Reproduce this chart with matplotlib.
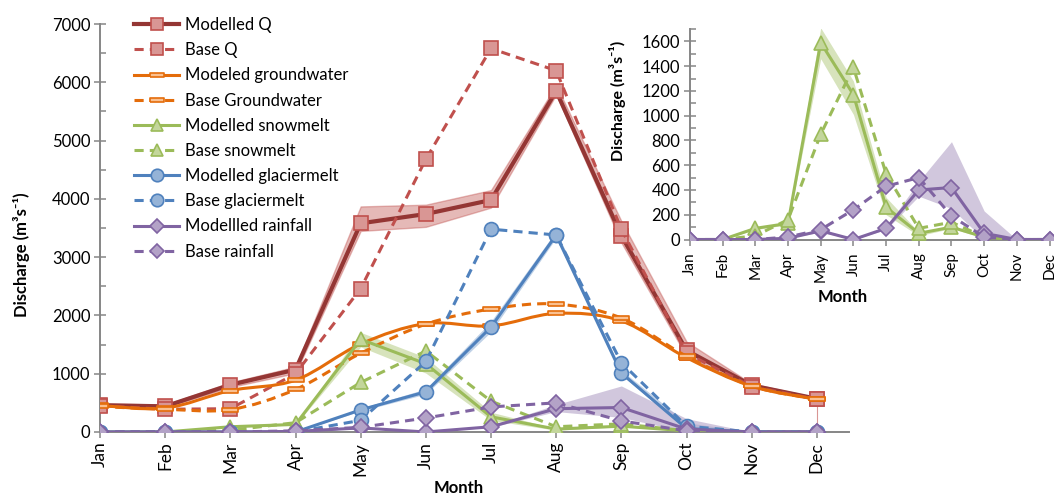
import numpy as np
from matplotlib import pyplot as plt
from matplotlib.path import Path
from matplotlib.patches import PathPatch
from matplotlib.lines import Line2D

plt.rcParams['font.family'] = ['Lato', 'DejaVu Sans']

months = ['Jan', 'Feb', 'Mar', 'Apr', 'May', 'Jun', 'Jul', 'Aug', 'Sep', 'Oct', 'Nov', 'Dec']

# discharge series, m3/s
mod_q      = [460, 440, 810, 1070, 3580, 3740, 3980, 5850, 3370, 1400, 800, 570]
base_q     = [450, 390, 400, 1000, 2460, 4680, 6580, 6200, 3480, 1350, 780, 560]
mod_gw     = [455, 410, 710, 890, 1510, 1860, 1820, 2035, 1905, 1275, 785, 560]
base_gw    = [440, 390, 385, 730, 1350, 1850, 2110, 2195, 1955, 1300, 790, 560]
mod_snow   = [0, 0, 90, 130, 1590, 1170, 260, 50, 100, 20, 0, 0]
base_snow  = [0, 0, 30, 160, 850, 1390, 530, 90, 140, 20, 0, 0]
mod_glac   = [0, 0, 0, 0, 380, 690, 1800, 3380, 1010, 60, 0, 0]
base_glac  = [0, 0, 0, 0, 200, 1210, 3480, 3380, 1190, 100, 0, 0]
mod_rain   = [0, 0, 0, 10, 70, 0, 90, 400, 420, 50, 0, 0]
base_rain  = [0, 0, 0, 20, 80, 240, 430, 500, 190, 20, 0, 0]

# uncertainty bands of the modelled series
q_lo    = [440, 420, 770, 1010, 3450, 3520, 3850, 5790, 3250, 1300, 760, 560]
q_hi    = [490, 470, 850, 1120, 3870, 3900, 4150, 5950, 3620, 1550, 830, 590]
snow_lo = [0, 0, 80, 120, 1460, 1010, 200, 30, 90, 10, 0, 0]
snow_hi = [0, 0, 100, 140, 1710, 1280, 340, 60, 110, 30, 0, 0]
glac_lo = [0, 0, 0, 0, 360, 650, 1720, 3330, 980, 40, 0, 0]
glac_hi = [0, 0, 0, 0, 410, 740, 1900, 3450, 1060, 160, 0, 0]
rain_lo = [0, 0, 0, 10, 60, 0, 80, 350, 250, 0, 0, 0]
rain_hi = [0, 0, 0, 20, 80, 10, 100, 470, 790, 230, 0, 0]

x = np.arange(len(months))

# colours (Excel 2010 palette)
RED, RED_D, RED_F = '#C0504D', '#943634', '#D99694'
ORA, ORA_F = '#E46C0A', '#FAC090'
GRN, GRN_F = '#9BBB59', '#C3D69B'
BLU, BLU_F = '#4F81BD', '#95B3D7'
PUR, PUR_F = '#8064A2', '#B3A2C7'
AXC = '#868686'
DASH = (0, (3, 2))
dashmark = [(-1, -0.32), (1, -0.32), (1, 0.32), (-1, 0.32), (-1, -0.32)]


def smooth_path(xs, ys):
    # Excel style smoothed line: cubic bezier through the points
    pts = np.column_stack([xs, ys]).astype(float)
    n = len(pts)
    verts = [pts[0]]
    codes = [Path.MOVETO]
    for i in range(n - 1):
        p0 = pts[max(i - 1, 0)]
        p1 = pts[i]
        p2 = pts[i + 1]
        p3 = pts[min(i + 2, n - 1)]
        verts += [p1 + (p2 - p0) / 6, p2 - (p3 - p1) / 6, p2]
        codes += [Path.CURVE4] * 3
    return Path(verts, codes)


fig = plt.figure(figsize=(10.54, 4.97), dpi=100)
ax = fig.add_axes([0.0949, 0.1308, 0.711, 0.8209])
ax.patch.set_alpha(0)


def style_axes(a, ymax, major, minor, fs, xfs, xpad):
    a.set_xlim(0, 11.5)
    a.set_ylim(0, ymax)
    a.set_xticks(x)
    a.set_xticklabels(months, rotation=90, fontsize=xfs)
    a.set_yticks(np.arange(0, ymax + 1, major))
    a.set_yticks(np.arange(0, ymax + 1, minor), minor=True)
    a.tick_params(axis='y', which='major', direction='inout', length=8, width=1.1,
                  color=AXC, labelsize=fs, pad=3)
    a.tick_params(axis='y', which='minor', direction='in', length=4, width=1.1, color=AXC)
    a.tick_params(axis='x', direction='out', length=4, width=1.1, color=AXC, pad=xpad)
    for s in ['top', 'right']:
        a.spines[s].set_visible(False)
    for s in ['left', 'bottom']:
        a.spines[s].set_color(AXC)
        a.spines[s].set_linewidth(1.4)


def draw(a, yv, col, fc, mk, ms, lw, ls, smooth=False, ec=None):
    ec = ec or col
    if smooth:
        a.add_patch(PathPatch(smooth_path(x, yv), fill=False, edgecolor=col, lw=lw,
                              linestyle=ls, capstyle='butt', zorder=3))
        a.plot(x, yv, ls='none', marker=mk, ms=ms, mfc=fc, mec=col, mew=1.2, zorder=3)
    else:
        a.plot(x, yv, color=col, lw=lw, ls=ls, marker=mk, ms=ms, mfc=fc, mec=ec,
               mew=1.2, zorder=3)


# --- main panel ---
style_axes(ax, 7000, 1000, 500, 12, 12.5, 3)
ax.fill_between(x, q_lo, q_hi, color=RED, alpha=0.4, lw=1, edgecolor=RED, zorder=2)
ax.fill_between(x, snow_lo, snow_hi, color=GRN, alpha=0.4, lw=0, zorder=2)
ax.fill_between(x, glac_lo, glac_hi, color=BLU_F, alpha=0.6, lw=0, zorder=2)
ax.fill_between(x, rain_lo, rain_hi, color=PUR_F, alpha=0.6, lw=0, zorder=2)
ax.vlines(x[-1], 0, mod_q[-1], color=RED, lw=0.8, alpha=0.6, zorder=2)

draw(ax, mod_q, RED_D, RED_F, 's', 10, 3, '-', ec=RED)
draw(ax, base_q, RED, RED_F, 's', 10, 2.2, DASH)
draw(ax, mod_gw, ORA, ORA_F, dashmark, 11, 2.2, '-', smooth=True)
draw(ax, base_gw, ORA, ORA_F, dashmark, 11, 2.2, DASH, smooth=True)
draw(ax, mod_snow, GRN, GRN_F, '^', 10, 2.2, '-')
draw(ax, base_snow, GRN, GRN_F, '^', 10, 2.2, DASH)
draw(ax, mod_glac, BLU, BLU_F, 'o', 10, 2.2, '-')
draw(ax, base_glac, BLU, BLU_F, 'o', 10, 2.2, DASH)
draw(ax, mod_rain, PUR, PUR_F, 'D', 8, 2.2, '-')
draw(ax, base_rain, PUR, PUR_F, 'D', 8, 2.2, DASH)

ax.set_ylabel('Discharge (m³s⁻¹)', fontsize=12, fontweight='bold')
ax.yaxis.set_label_coords(-0.093, 0.434)
ax.set_xlabel('Month', fontsize=12, fontweight='bold')
ax.xaxis.set_label_coords(0.478, -0.118)

labels = ['Modelled Q', 'Base Q', 'Modeled groundwater', 'Base Groundwater',
          'Modelled snowmelt', 'Base snowmelt', 'Modelled glaciermelt',
          'Base glaciermelt', 'Modellled rainfall', 'Base rainfall']
specs = [(RED_D, RED_F, 's', 9, 3, '-', RED), (RED, RED_F, 's', 9, 2.2, DASH, RED),
         (ORA, ORA_F, dashmark, 10, 2.2, '-', ORA), (ORA, ORA_F, dashmark, 10, 2.2, DASH, ORA),
         (GRN, GRN_F, '^', 9, 2.2, '-', GRN), (GRN, GRN_F, '^', 9, 2.2, DASH, GRN),
         (BLU, BLU_F, 'o', 9, 2.2, '-', BLU), (BLU, BLU_F, 'o', 9, 2.2, DASH, BLU),
         (PUR, PUR_F, 'D', 7, 2.2, '-', PUR), (PUR, PUR_F, 'D', 7, 2.2, DASH, PUR)]
handles = [Line2D([], [], color=c, mfc=f, marker=m, ms=s, lw=w, ls=l, mec=e, mew=1.2)
           for c, f, m, s, w, l, e in specs]
fig.legend(handles, labels, loc='upper left', bbox_to_anchor=(0.121, 0.979),
           frameon=False, fontsize=12, handlelength=2.7, handletextpad=0.36,
           labelspacing=0.55, borderaxespad=0)

# --- inset: snowmelt and rainfall ---
ins = fig.add_axes([0.6546, 0.5181, 0.3567, 0.4235])
ins.patch.set_alpha(0)
style_axes(ins, 1700, 200, 100, 12, 11, 5)
ins.fill_between(x, snow_lo, snow_hi, color=GRN, alpha=0.4, lw=0, zorder=2)
ins.fill_between(x, rain_lo, rain_hi, color=PUR_F, alpha=0.6, lw=0, zorder=2)
draw(ins, mod_snow, GRN, GRN_F, '^', 10, 2.2, '-')
draw(ins, base_snow, GRN, GRN_F, '^', 10, 2.2, DASH)
draw(ins, mod_rain, PUR, PUR_F, 'D', 8, 2.2, '-')
draw(ins, base_rain, PUR, PUR_F, 'D', 8, 2.2, DASH)
ins.set_ylabel('Discharge (m³s⁻¹)', fontsize=11.5, fontweight='bold')
ins.yaxis.set_label_coords(-0.17, 0.66)
ins.set_xlabel('Month', fontsize=12, fontweight='bold')
ins.xaxis.set_label_coords(0.407, -0.235)

fig.savefig('out.png', dpi=100)
